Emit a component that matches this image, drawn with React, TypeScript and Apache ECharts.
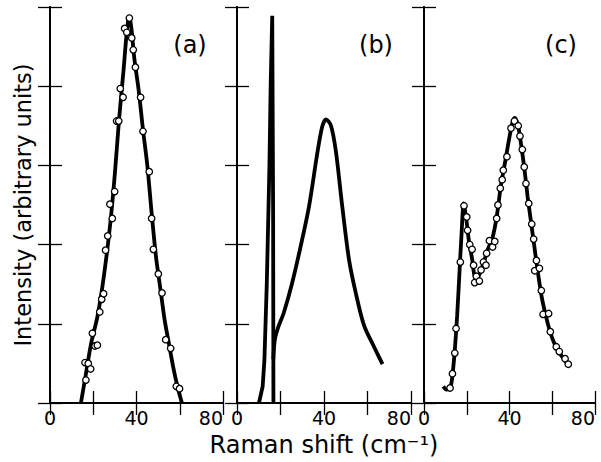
import React, { useEffect, useRef } from "react";
import * as echarts from "echarts";

// Panel (a): fitted curve and measured points
const curveA: [number, number][] = [
  [14.3, 0], [16.5, 0.35], [19, 0.75], [22, 1.1], [25, 1.62], [28, 2.3], [30, 2.9],
  [32, 3.6], [34, 4.2], [35.5, 4.68], [36.6, 4.88], [37.6, 4.74], [39, 4.35], [41, 3.95],
  [43, 3.45], [45, 3.0], [47, 2.4], [49, 1.85], [51, 1.45], [53, 1.05], [55, 0.75],
  [57, 0.45], [59, 0.2], [61, 0],
];
const pointsA: [number, number][] = [
  [16.2, 0.51], [16.6, 0.29], [17.7, 0.5], [18.8, 0.43], [19.6, 0.88], [20.8, 0.72],
  [21.9, 0.73], [23.0, 1.15], [23.9, 1.31], [24.8, 1.38], [25.7, 1.93], [26.7, 2.11],
  [27.7, 2.51], [28.8, 2.33], [29.9, 2.67], [30.8, 3.56], [31.8, 3.56], [32.5, 3.97],
  [33.8, 3.86], [34.5, 4.73], [35.5, 4.68], [36.7, 4.86], [37.8, 4.61], [38.5, 4.46],
  [39.5, 4.24], [41.9, 3.86], [43.0, 3.43], [45.9, 2.92], [47.0, 2.33], [47.8, 1.94],
  [50.1, 1.63], [51.8, 1.39], [53.5, 0.8], [55.8, 0.69], [58.4, 0.21], [59.9, 0.18],
];

// Panel (b): sharp line and broad band
const sharpB: [number, number][] = [
  [10.1, 0], [11.8, 0.21], [12.6, 0.54], [13.7, 1.51], [14.9, 2.98], [15.5, 4.04],
  [16.2, 4.89], [16.6, 2.5], [16.75, 0],
];
const broadB: [number, number][] = [
  [16.7, 0.55], [17.4, 0.8], [19.0, 0.96], [21.4, 1.13], [25.3, 1.51], [29.2, 1.97],
  [33.1, 2.48], [36.9, 3.15], [39.2, 3.49], [40.9, 3.58], [43.1, 3.51], [45.4, 3.19],
  [48.4, 2.48], [51.5, 1.81], [54.6, 1.39], [58.4, 0.98], [63.0, 0.71], [66.9, 0.49],
];

// Panel (c): fitted curve and measured points
const curveC: [number, number][] = [
  [9.0, 0.21], [10.5, 0.17], [12.3, 0.19], [13.5, 0.4], [14.5, 0.7], [15.5, 1.1],
  [16.5, 1.6], [17.5, 2.1], [18.6, 2.52], [19.6, 2.36], [21, 2.05], [22.5, 1.82],
  [23.5, 1.62], [24.5, 1.55], [26, 1.63], [28, 1.78], [30, 1.95], [32, 2.08], [34, 2.35],
  [36, 2.75], [38, 3.05], [40, 3.36], [41.5, 3.55], [42.5, 3.6], [44, 3.5], [45.5, 3.25],
  [47, 2.95], [48.5, 2.6], [50, 2.3], [51.5, 2.0], [53, 1.7], [55, 1.35], [57, 1.1],
  [59, 0.9], [61, 0.75], [63, 0.65], [65, 0.57], [67.5, 0.48],
];
const pointsC: [number, number][] = [
  [12.2, 0.19], [13.3, 0.37], [14.4, 0.63], [15.0, 0.94], [17.0, 1.78], [18.7, 2.49],
  [20.0, 2.35], [20.4, 2.18], [21.4, 2.0], [22.5, 1.94], [23.2, 1.74], [23.7, 1.52],
  [24.5, 1.6], [25.9, 1.54], [26.7, 1.68], [27.8, 1.78], [29.0, 1.74], [29.3, 1.89],
  [30.6, 2.05], [32.1, 1.97], [33.1, 2.04], [34.0, 2.33], [34.6, 2.5], [35.7, 2.71],
  [36.6, 2.82], [37.1, 2.94], [38.8, 3.11], [40.7, 3.47], [42.3, 3.56], [44.1, 3.5],
  [44.9, 3.37], [46.0, 3.2], [46.9, 2.98], [47.7, 2.77], [49.0, 2.52], [50.4, 2.26],
  [51.3, 2.07], [52.6, 1.8], [51.8, 1.67], [54.0, 1.7], [54.9, 1.42], [55.7, 1.12],
  [58.3, 1.13], [59.1, 0.9], [61.9, 0.71], [63.3, 0.65], [66.0, 0.56], [67.5, 0.49],
];

const panelLabels = ["(a)", "(b)", "(c)"];
const xTickLabels = ["0", "40", "80"];
const xTitle = "Raman shift (cm⁻¹)";
const yTitle = "Intensity (arbitrary units)";

const FONT = "'DejaVu Sans', sans-serif";

export default function App() {
  const ref = useRef<HTMLDivElement>(null);
  useEffect(() => {
    if (!ref.current) return;
    const chart = echarts.init(ref.current, undefined, { renderer: "svg" });
    const grids = [
      { left: 50, width: 173, top: 7, height: 396 },
      { left: 237, width: 174, top: 7, height: 396 },
      { left: 424, width: 171, top: 7, height: 396 },
    ];
    const axisLine = { show: true, lineStyle: { color: "#000", width: 1.8 } };
    const tick = { show: true, inside: true, length: 12, lineStyle: { color: "#000", width: 1.3 } };
    const xAxis: any[] = [];
    const yAxis: any[] = [];
    grids.forEach((_, i) => {
      xAxis.push({
        type: "value", gridIndex: i, position: "bottom", min: 0, max: 80, interval: 20,
        axisLine, axisTick: tick, splitLine: { show: false },
        axisLabel: {
          show: true, color: "#000", fontSize: 19, fontFamily: FONT, margin: 5,
          formatter: (v: number) => (xTickLabels.includes(String(v)) ? String(v) : ""),
          alignMaxLabel: "right",
        },
      });
      xAxis.push({
        type: "value", gridIndex: i, position: "top", min: 0, max: 80, interval: 20,
        axisLine, axisTick: tick, splitLine: { show: false }, axisLabel: { show: false },
      });
      yAxis.push({
        type: "value", gridIndex: i, position: "left", min: 0, max: 5, interval: 1,
        axisLine, axisTick: tick, splitLine: { show: false }, axisLabel: { show: false },
      });
      yAxis.push({
        type: "value", gridIndex: i, position: "right", min: 0, max: 5, interval: 1,
        axisLine, axisTick: tick, splitLine: { show: false }, axisLabel: { show: false },
      });
    });
    const line = (data: [number, number][], g: number, smooth = 0.3) => ({
      type: "line", xAxisIndex: g * 2, yAxisIndex: g * 2, data, smooth,
      showSymbol: false, symbol: "none", lineStyle: { color: "#000", width: 3.8 },
      z: 2,
    });
    const pts = (data: [number, number][], g: number) => ({
      type: "scatter", xAxisIndex: g * 2, yAxisIndex: g * 2, data, symbol: "circle",
      symbolSize: 6.5, itemStyle: { color: "#fff", borderColor: "#000", borderWidth: 1.3, opacity: 1 },
      z: 3,
    });
    chart.setOption({
      animation: false,
      backgroundColor: "#fff",
      grid: grids,
      xAxis, yAxis,
      series: [
        line(curveA, 0), pts(pointsA, 0),
        line(sharpB, 1, 0), line(broadB, 1, 0.3),
        line(curveC, 2), pts(pointsC, 2),
      ],
      graphic: [
        ...panelLabels.map((t, i) => ({
          type: "text", x: [190, 376, 561][i], y: 45,
          style: { text: t, fontSize: 24, fontFamily: FONT, fill: "#000", align: "center", verticalAlign: "middle" },
        })),
        {
          type: "text", x: 324, y: 445,
          style: { text: xTitle, fontSize: 24, fontFamily: FONT, fill: "#000", align: "center", verticalAlign: "middle" },
        },
        {
          type: "text", x: 23, y: 205, rotation: Math.PI / 2,
          style: { text: yTitle, fontSize: 22.5, fontFamily: FONT, fill: "#000", align: "center", verticalAlign: "middle" },
        },
      ],
    });
    return () => chart.dispose();
  }, []);
  return <div ref={ref} style={{ width: 601, height: 462, position: "absolute", left: 0, top: 0 }} />;
}
